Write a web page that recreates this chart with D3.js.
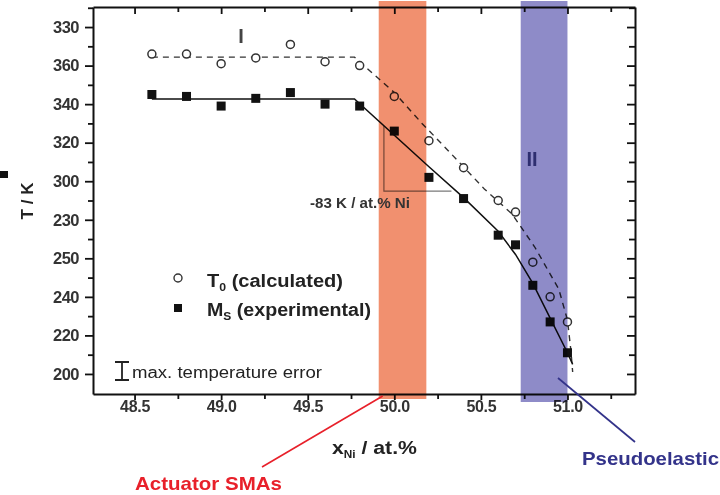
<!DOCTYPE html>
<html><head><meta charset="utf-8">
<script src="https://cdn.jsdelivr.net/npm/d3@7/dist/d3.min.js"></script>
<style>
html,body{margin:0;padding:0;background:#fff;}
svg{display:block;font-family:"Liberation Sans",Arial,sans-serif;}
.band{mix-blend-mode:multiply;}
</style></head>
<body>
<svg id="chart" width="720" height="495"></svg>
<script>
// ---- data ----
const xNi = [48.6, 48.8, 49.0, 49.2, 49.4, 49.6, 49.8, 50.0, 50.2, 50.4, 50.6, 50.7, 50.8, 50.9, 51.0];
const t0Calc = [366, 366, 361, 364, 371, 362, 360, 344, 321, 307, 290, 284, 258, 240, 227];
const msExp  = [345, 344, 339, 343, 346, 340, 339, 326, 302, 291, 272, 267, 246, 227, 211];
const t0FitX = [48.6, 49.77, 50.0, 50.16, 50.31, 50.52, 50.68, 50.81, 50.95, 51.0, 51.02, 51.03];
const t0FitY = [364.4, 364.4, 346, 330, 316, 296, 283, 266, 244, 228, 212, 201];
const msFitX = [48.6, 49.77, 50.2, 50.4, 50.6, 50.7, 50.8, 50.9, 51.0, 51.03];
const msFitY = [342.7, 342.7, 307.5, 291.5, 274, 262, 247, 229, 211, 205];
const xTicks = [48.5, 49.0, 49.5, 50.0, 50.5, 51.0];
const xTickLabels = ["48.5", "49.0", "49.5", "50.0", "50.5", "51.0"];
const xMinor = [48.75, 49.25, 49.75, 50.25, 50.75, 51.25];
const yTicks = [380, 360, 340, 320, 300, 280, 260, 240, 220, 200];
const yTickLabels = ["330", "360", "340", "320", "300", "230", "250", "240", "220", "200"];
const yMinor = [390, 370, 350, 330, 310, 290, 270, 250, 230, 210];
const bandOrange = [49.91, 50.185];
const bandPurple = [50.73, 51.0];
const slopeTri = {x0: 49.94, x1: 50.33, yTop: 328.6, yBot: 294.9};

// ---- layout ----
const L = 93, R = 635, T = 7, B = 394;
const svg = d3.select("#chart");
const x = d3.scaleLinear().domain([48.26, 51.39]).range([L, R]);
const y = d3.scaleLinear().domain([189.6, 390.4]).range([B, T]);

// axes
const axisCol = "#111";
function addAxis(gen, tx, ty, major, minor, majLen, minLen, labels) {
  const g = svg.append("g").attr("transform", `translate(${tx},${ty})`);
  g.call(gen.tickValues(major).tickSize(majLen).tickSizeOuter(0)
      .tickFormat(labels ? (d, i) => labels[i] : () => ""));
  const g2 = svg.append("g").attr("transform", `translate(${tx},${ty})`);
  g2.call(gen.tickValues(minor).tickSize(minLen).tickSizeOuter(0).tickFormat(() => ""));
  g2.select(".domain").remove();
  [g, g2].forEach(s => {
    s.selectAll(".tick line").attr("stroke", axisCol).attr("stroke-width", 1.8);
    s.select(".domain").attr("stroke", axisCol).attr("stroke-width", 2);
  });
  return g;
}
const yMinorIn = yMinor.filter(v => v > 189.6 && v < 390.4);
const gL = addAxis(d3.axisLeft(y), L, 0, yTicks, yMinorIn, 8, 5, yTickLabels);
gL.selectAll(".tick text").attr("font-size", 16.5).attr("font-weight", "bold").attr("fill", "#333")
  .attr("dx", -3).attr("letter-spacing", -0.5);
const gB = addAxis(d3.axisBottom(x), 0, B, xTicks, xMinor, 6, 5, xTickLabels);
gB.selectAll(".tick text").attr("font-size", 16).attr("font-weight", "bold").attr("fill", "#333")
  .attr("dy", 9).attr("letter-spacing", -0.3);
addAxis(d3.axisBottom(x), 0, T, xTicks, xMinor, 7, 5, null);
addAxis(d3.axisLeft(y), R, 0, yTicks, yMinorIn, 8, 6, null);

// slope triangle
svg.append("path")
  .attr("d", `M${x(slopeTri.x0)},${y(slopeTri.yTop)}V${y(slopeTri.yBot)}H${x(slopeTri.x1)}`)
  .attr("fill", "none").attr("stroke", "#7a7a7a").attr("stroke-width", 1.2);

// fitted lines
svg.append("path").attr("d", d3.line().x(d => x(d[0])).y(d => y(d[1]))(d3.zip(t0FitX, t0FitY)))
  .attr("fill", "none").attr("stroke", "#333").attr("stroke-width", 1.4).attr("stroke-dasharray", "6,5");
svg.append("path").attr("d", d3.line().x(d => x(d[0])).y(d => y(d[1]))(d3.zip(msFitX, msFitY)))
  .attr("fill", "none").attr("stroke", "#111").attr("stroke-width", 1.5);

// markers
svg.append("g").selectAll("circle").data(d3.zip(xNi, t0Calc)).join("circle")
  .attr("cx", d => x(d[0])).attr("cy", d => y(d[1])).attr("r", 4)
  .attr("fill", "#fff").attr("stroke", "#333").attr("stroke-width", 1.5);
svg.append("g").selectAll("rect").data(d3.zip(xNi, msExp)).join("rect")
  .attr("x", d => x(d[0]) - 4.5).attr("y", d => y(d[1]) - 4.5).attr("width", 9).attr("height", 9)
  .attr("fill", "#111");

// bands (multiplied over the plot)
svg.append("rect").attr("class", "band").attr("x", x(bandOrange[0])).attr("width", x(bandOrange[1]) - x(bandOrange[0]))
  .attr("y", 1).attr("height", 398).attr("fill", "#f1906f");
svg.append("rect").attr("class", "band").attr("x", x(bandPurple[0])).attr("width", x(bandPurple[1]) - x(bandPurple[0]))
  .attr("y", 1).attr("height", 401).attr("fill", "#8e8bc8");

// region labels
svg.append("text").attr("x", 241).attr("y", 43).attr("text-anchor", "middle")
  .attr("font-size", 20).attr("font-weight", "bold").attr("fill", "#444").text("I");
svg.append("text").attr("x", 532).attr("y", 166).attr("text-anchor", "middle")
  .attr("font-size", 20).attr("font-weight", "bold").attr("fill", "#2e2e70").text("II");

// slope text
svg.append("text").attr("x", 310).attr("y", 208)
  .attr("font-size", 14).attr("font-weight", "bold").attr("fill", "#333")
  .attr("textLength", 100).attr("lengthAdjust", "spacingAndGlyphs").text("-83 K / at.% Ni");

// legend
svg.append("circle").attr("cx", 178).attr("cy", 278).attr("r", 4)
  .attr("fill", "#fff").attr("stroke", "#333").attr("stroke-width", 1.4);
svg.append("rect").attr("x", 174).attr("y", 304).attr("width", 8).attr("height", 8).attr("fill", "#111");
const lt1 = svg.append("text").attr("x", 207).attr("y", 287).attr("font-size", 18).attr("font-weight", "bold").attr("fill", "#222")
  .attr("textLength", 136).attr("lengthAdjust", "spacingAndGlyphs");
lt1.append("tspan").text("T");
lt1.append("tspan").attr("font-size", 11).attr("dy", 4).text("0");
lt1.append("tspan").attr("dy", -4).text(" (calculated)");
const lt2 = svg.append("text").attr("x", 207).attr("y", 316).attr("font-size", 18).attr("font-weight", "bold").attr("fill", "#222")
  .attr("textLength", 164).attr("lengthAdjust", "spacingAndGlyphs");
lt2.append("tspan").text("M");
lt2.append("tspan").attr("font-size", 11).attr("dy", 4).text("S");
lt2.append("tspan").attr("dy", -4).text(" (experimental)");

// error bar legend
svg.append("path").attr("d", "M115,362H129M122,362V380M115,380H129")
  .attr("stroke", "#222").attr("stroke-width", 1.8).attr("fill", "none");
svg.append("text").attr("x", 132).attr("y", 378).attr("font-size", 16).attr("fill", "#222")
  .attr("textLength", 190).attr("lengthAdjust", "spacingAndGlyphs").text("max. temperature error");

// axis titles
svg.append("text").attr("transform", "translate(33,201) rotate(-90)").attr("text-anchor", "middle")
  .attr("font-size", 17).attr("font-weight", "bold").attr("fill", "#222").text("T / K");
svg.append("rect").attr("x", 0).attr("y", 171).attr("width", 8).attr("height", 7).attr("fill", "#111");
const xt = svg.append("text").attr("x", 332).attr("y", 454).attr("font-size", 18).attr("font-weight", "bold").attr("fill", "#222")
  .attr("textLength", 85).attr("lengthAdjust", "spacingAndGlyphs");
xt.append("tspan").text("x");
xt.append("tspan").attr("font-size", 10).attr("dy", 4).text("Ni");
xt.append("tspan").attr("dy", -4).text(" / at.%");

// callouts
svg.append("line").attr("x1", 262).attr("y1", 467).attr("x2", x(bandOrange[0]) + 4).attr("y2", 396)
  .attr("stroke", "#e8202a").attr("stroke-width", 1.6);
svg.append("text").attr("x", 135).attr("y", 490).attr("font-size", 19).attr("font-weight", "bold")
  .attr("fill", "#e8202a").attr("textLength", 147).attr("lengthAdjust", "spacingAndGlyphs").text("Actuator SMAs");
svg.append("line").attr("x1", 558).attr("y1", 378).attr("x2", 635).attr("y2", 442)
  .attr("stroke", "#33338a").attr("stroke-width", 1.7);
svg.append("text").attr("x", 582).attr("y", 465).attr("font-size", 19).attr("font-weight", "bold")
  .attr("fill", "#33338a").attr("textLength", 137).attr("lengthAdjust", "spacingAndGlyphs").text("Pseudoelastic");
</script>
</body></html>
